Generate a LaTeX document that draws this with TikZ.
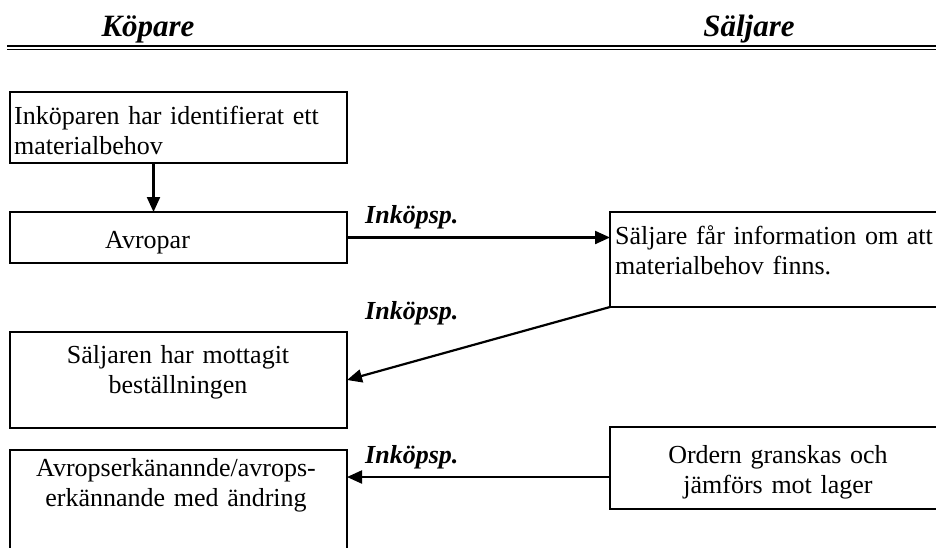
\documentclass[tikz,border=0pt]{standalone}
\usepackage{fontspec}
\setmainfont{Liberation Serif}
\usetikzlibrary{arrows.meta}
\newcommand\bodysize{\fontsize{26}{30}\selectfont}
\newcommand\headsize{\fontsize{31}{36}\selectfont}

\begin{document}
\begin{tikzpicture}[x=1pt,y=-1pt,
	box/.style={draw, line width=2.2pt, anchor=north west, inner sep=0pt, outer sep=0pt},
	txt/.style={inner sep=0pt, font=\bodysize, text width=330pt},
	head/.style={inner sep=0pt, anchor=base, font=\headsize\bfseries\itshape},
	lbl/.style={inner sep=0pt, anchor=base west, font=\bodysize\bfseries\itshape},
	arr/.style={line width=2.2pt, -{Triangle[length=15pt,width=13pt]}}]
\useasboundingbox (0,0) rectangle (936,547);
\clip (0,0) rectangle (936,547);
\fill[white] (0,0) rectangle (936,547);

% rubriker
\node [head] (kop) at (148,36) {Köpare};
\node [head] (salj) at (749,36) {Säljare};
\draw [line width=2.8pt] (7,46) -- (936,46);
\draw [line width=1.1pt] (7,49.8) -- (936,49.8);

% rutor
\node [box, minimum width=337pt, minimum height=71pt] (behov) at (10,92) {};
\node [box, minimum width=337pt, minimum height=51pt] (avropar) at (10,212) {};
\node [box, minimum width=340pt, minimum height=95pt] (info) at (610,212) {};
\node [box, minimum width=337pt, minimum height=96pt] (mottagit) at (10,332) {};
\node [box, minimum width=337pt, minimum height=104pt] (erk) at (10,450) {};
\node [box, minimum width=340pt, minimum height=82pt] (granskas) at (610,427) {};

% texter
\node [txt, anchor=base west, align=left] (behovtxt) at (14,124)
	{Inköparen har identifierat ett\\materialbehov};
\node [txt, anchor=base west, align=left] (avropartxt) at (105,248) {Avropar};
\node [txt, anchor=base west, align=left] (infotxt) at (615,244)
	{Säljare får information om att\\materialbehov finns.};
\node [txt, anchor=base, align=center] (mottagittxt) at (178,363)
	{Säljaren har mottagit\\beställningen};
\node [txt, anchor=base, align=center] (erktxt) at (176,476)
	{Avropserkänannde/avrops-\\erkännande med ändring};
\node [txt, anchor=base, align=center] (granskastxt) at (778,463)
	{Ordern granskas och\\jämförs mot lager};

% pilar
\draw [arr] ([xshift=-25pt]behov.south) -- ([xshift=-25pt]avropar.north);
\draw [arr] (avropar.east) -- (avropar.east -| info.west);
\draw [arr] (info.south west) -- (mottagit.east);
\draw [arr] ([yshift=-9pt]granskas.west) -- ([yshift=-9pt]granskas.west -| erk.east);

\node [lbl] (insp1) at (365,223) {Inköpsp.};
\node [lbl] (insp2) at (365,319) {Inköpsp.};
\node [lbl] (insp3) at (365,463) {Inköpsp.};
\end{tikzpicture}
\end{document}
